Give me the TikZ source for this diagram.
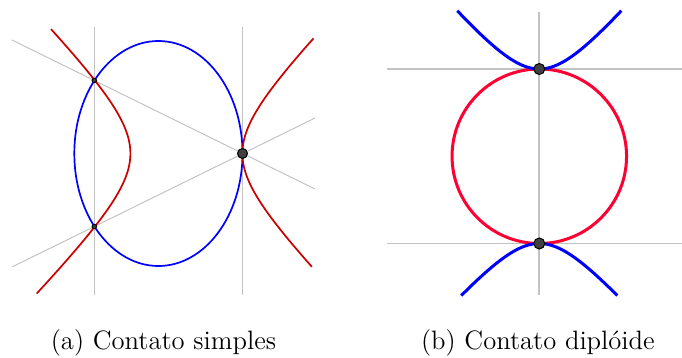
\documentclass[tikz,border=0pt]{standalone}
\usetikzlibrary{calc}
\definecolor{gridgray}{RGB}{195,195,195}
\definecolor{darkred}{RGB}{204,0,0}
\definecolor{crimson}{RGB}{255,0,51}
\definecolor{dotfill}{RGB}{64,64,64}
\begin{document}
\begin{tikzpicture}[x=0.5pt,y=-0.5pt,
  thingray/.style={draw=gridgray,line width=0.5pt},
  thickgray/.style={draw=gridgray,line width=0.9pt},
  dotnode/.style={circle,draw=black,fill=dotfill,inner sep=0pt,line width=0.5pt},
  caption/.style={font=\fontsize{13.3}{15}\selectfont,anchor=base,inner sep=0pt}]
\useasboundingbox (0,0) rectangle (682,358);
% ---------- (a) ----------
\coordinate (va1) at (94.3,27);   \coordinate (va2) at (94.3,295);
\coordinate (vb1) at (242.5,27);  \coordinate (vb2) at (242.5,295);
\coordinate (l1a) at (12,40);     \coordinate (l1b) at (315,189);
\coordinate (l2a) at (12,267);    \coordinate (l2b) at (315,118);
\draw[thingray] (va1) -- (va2);
\draw[thingray] (vb1) -- (vb2);
\draw[thingray] (l1a) -- (l1b);
\draw[thingray] (l2a) -- (l2b);
\draw[blue,line width=0.85pt] (158.4,153.5) ellipse [x radius=84.1, y radius=112.5];
\draw[darkred,line width=0.85pt] plot[domain=-1.53:1.64,samples=90,smooth,variable=\t]
  ({186.4-56*cosh(\t)},{153.5+56.5*sinh(\t)});
\draw[darkred,line width=0.85pt] plot[domain=-1.46:1.447,samples=90,smooth,variable=\t]
  ({186.4+56*cosh(\t)},{153.5+56.5*sinh(\t)});
\node[dotnode,minimum size=2.2pt] (pa1) at (94.3,80.5) {};
\node[dotnode,minimum size=2.2pt] (pa2) at (94.3,226.5) {};
\node[dotnode,minimum size=5pt] (pa3) at (242.5,153.5) {};
% ---------- (b) ----------
\coordinate (vc1) at (539.3,12);  \coordinate (vc2) at (539.3,295);
\coordinate (h1a) at (387,69);    \coordinate (h1b) at (682,69);
\coordinate (h2a) at (387,243.5); \coordinate (h2b) at (682,243.5);
\draw[thickgray] (vc1) -- (vc2);
\draw[thickgray] (h1a) -- (h1b);
\draw[thickgray] (h2a) -- (h2b);
\draw[crimson,line width=1.5pt] (539.3,156.25) circle [radius=87.25];
\draw[blue,line width=1.5pt] plot[domain=-82:82,samples=90,smooth,variable=\t]
  ({539.3+\t},{69-54*(sqrt(1+(\t/45)^2)-1)});
\draw[blue,line width=1.5pt] plot[domain=-78:78,samples=90,smooth,variable=\t]
  ({539.3+\t},{243.5+52*(sqrt(1+(\t/45)^2)-1)});
\node[dotnode,minimum size=5.5pt] (pb1) at (539.3,69) {};
\node[dotnode,minimum size=5.5pt] (pb2) at (539.3,243.5) {};
% ---------- captions ----------
\node[caption] (capa) at (163.5,350) {(a)\ Contato simples};
\node[caption] (capb) at (537.9,350) {(b)\ Contato diplóide};
\end{tikzpicture}
\end{document}
